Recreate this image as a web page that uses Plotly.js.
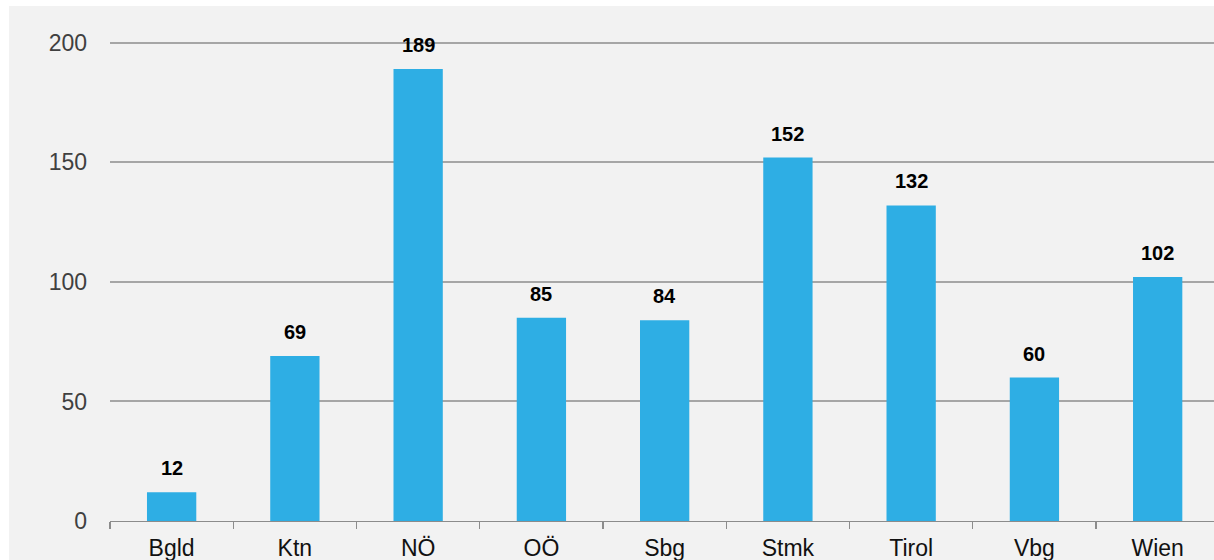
<!DOCTYPE html>
<html>
<head>
<meta charset="utf-8">
<script src="https://cdn.plot.ly/plotly-3.0.1.min.js"></script>
<style>
html,body{margin:0;padding:0;background:#ffffff;overflow:hidden;}
#chart{position:absolute;left:9px;top:6px;width:1205px;height:554px;}
</style>
</head>
<body>
<div id="chart"></div>
<script>
const categories = ["Bgld","Ktn","NÖ","OÖ","Sbg","Stmk","Tirol","Vbg","Wien"];
const values = [12,69,189,85,84,152,132,60,102];
const yTickVals = [0,50,100,150,200];

const trace = {
  type: "bar",
  x: categories,
  y: values,
  marker: {color: "#2eaee4", line: {width: 0}},
  hoverinfo: "x+y"
};

const annotations = categories.map((c, i) => ({
  x: c, y: values[i], xref: "x", yref: "y",
  text: "<b>" + values[i] + "</b>",
  showarrow: false, yanchor: "middle", yshift: 24,
  font: {family: "Liberation Sans, Arial, sans-serif", size: 20, color: "#000000"}
}));

const layout = {
  width: 1205, height: 554,
  paper_bgcolor: "#f2f2f2",
  plot_bgcolor: "#f2f2f2",
  margin: {l: 101, r: 0, t: 32, b: 39, pad: 0},
  bargap: 0.6,
  showlegend: false,
  font: {family: "Liberation Sans, Arial, sans-serif", size: 23, color: "#404040"},
  xaxis: {
    type: "category",
    range: [-0.5, 8.457],
    showline: true, linecolor: "#8c8c8c", linewidth: 1.3,
    ticks: "outside", tickson: "boundaries", ticklen: 7, tickcolor: "#8c8c8c", tickwidth: 1.3,
    ticklabelstandoff: 6,
    showgrid: false, zeroline: false,
    tickfont: {size: 23, color: "#111111"},
    fixedrange: true
  },
  yaxis: {
    range: [0, 202],
    tickvals: yTickVals,
    showgrid: true, gridcolor: "#a6a6a6", gridwidth: 2,
    zeroline: false, showline: false, ticks: "",
    ticklabelstandoff: 22,
    tickfont: {size: 23, color: "#404040"},
    fixedrange: true
  },
  annotations: annotations
};

Plotly.newPlot("chart", [trace], layout, {displayModeBar: false, staticPlot: true});
</script>
</body>
</html>
